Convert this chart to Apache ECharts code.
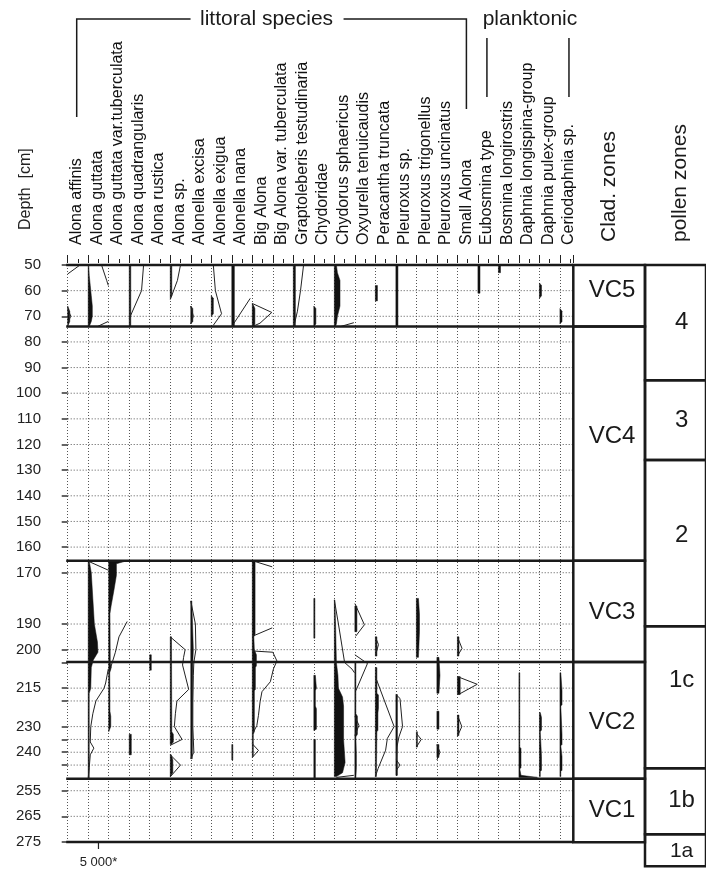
<!DOCTYPE html>
<html><head><meta charset="utf-8">
<script src="https://cdn.jsdelivr.net/npm/echarts@6/dist/echarts.min.js"></script>
<style>html,body{margin:0;padding:0;background:#fff}#c{width:706px;height:870px}</style>
</head><body><div id="c"></div>
<script>
// ---------- categories & labels ----------
const taxa = ['Alona affinis','Alona guttata','Alona guttata var.tuberculata','Alona quadrangularis','Alona rustica',
  'Alona sp.','Alonella excisa','Alonella exigua','Alonella nana','Big Alona','Big Alona var. tuberculata',
  'Graptoleberis testudinaria','Chydoridae','Chydorus sphaericus','Oxyurella tenuicaudis','Peracantha truncata',
  'Pleuroxus sp.','Pleuroxus trigonellus','Pleuroxus uncinatus','Small Alona','Eubosmina type',
  'Bosmina longirostris','Daphnia longispina-group','Daphnia pulex-group','Ceriodaphnia sp.'];
const groupNames = ['littoral species','planktonic'];
const groupFirst = [0, 20];
const groupLast = [19, 24];
const depthTicks = [50,60,70,80,90,100,110,120,130,140,150,160,170,190,200,205,215,220,230,235,240,245,255,265,275];
const depthLabels = [50,60,70,80,90,100,110,120,130,140,150,160,170,190,200,215,230,240,255,265,275];
const zoneBounds = [50,74,165.3,204.8,250.3,275];
const cladNames = ['VC5','VC4','VC3','VC2','VC1'];
const cladTop = [50,74,165.3,204.8,250.3];
const cladBottom = [74,165.3,204.8,250.3,275];
const cladLabelDepth = [59.8,117,185.3,228.2,262.6];
const pollenNames = ['4','3','2','1c','1b','1a'];
const pollenTop = [50,94.9,126,190.8,246.2,271.9];
const pollenBottom = [94.9,126,190.8,246.2,271.9,284.4];
const pollenLabelDepth = [72.2,110.5,155.3,211.9,258.7,278.4];
const scaleValue = 5000;
const colWidth = 10000;

// ---------- values: [depth cm, value]; null = break ----------
const fillAlonaAffinis = [[66,0],[68,1000],[72,1000],[74,0]];
const lineAlonaAffinis = [[50,6000],[53.5,0],null,[67,0],[70,1500],[72.5,0]];
const fillAlonaGuttata = [[50,250],[54,500],[58,1000],[62,1500],[66,2000],[70,2000],[72,1500],[74,500],null,
  [165.5,500],[170,1500],[180,2250],[190,3000],[197,4500],[201,4750],[204,2500],[207,1500],[215,1250],[217,500],[250,500]];
const lineAlonaGuttata = [[50,6500],[56,9000],[58,9800],null,[72,9800],[74,4500],null,
  [165.5,0],[169,9800],null,[207.5,9800],[213,8500],[215,7750],[220,3750],[225,2250],[230,1250],[236,1000],[238.4,2750],[241,1000],[246,500],[250,0]];
const fillGuttataTub = [[165.3,9000],[166.5,3750],[171,3750],[177,2500],[183,1150],[186,600],[205,750],[207,1250],[209,500],[224,600],[226,1000],[230,1000],[232,0]];
const lineGuttataTub = [[189,9000],[195,5000],[201,3250],[207.5,750],[209,0]];
const fillQuadrangularis = [[50,750],[74,750],null,[233,1000],[241,1000]];
const lineQuadrangularis = [[50,7000],[60,6000],[70.5,250],[71,0]];
const fillRustica = [[202,750],[208,750]];
const lineRustica = [];
const fillAlonaSp = [[50,750],[62,750],[63,0],null,[195,600],[232,750],[233,1500],[236,1500],[237,500],null,[241,500],[243,1250],[248,1250],[249.5,0]];
const lineAlonaSp = [[50,5000],[56,3500],[63.5,0],null,[195,0],[200,7250],[203,6500],[206,6000],[215.5,9000],[220,3250],[225,2500],[230,2000],[235,5750],[237.2,250],null,[241,0],[245,5000],[249.6,0]];
const fillExcisa = [[66,0],[67,1000],[72,1000],[73,0],null,[181,500],[200,1250],[205,1000],[242.5,750]];
const lineExcisa = [[66,0],[70,1250],[73,0],null,[181,0],[190,2250],[200,2500],[205,1500],[210,1250],[220,1000],[230,1000],[240,1500],[242.5,0]];
const fillExigua = [[62,0],[63,1000],[69,1000],[70,0]];
const lineExigua = [[50,1000],[60,2000],[69,5000],[73.5,1000]];
const fillNana = [[50,1250],[74,1250],null,[237,500],[243,500]];
const lineNana = [[63,9000],[74,0]];
const fillBigAlona = [[65,0],[66,750],[67,1250],[73,1250],[74,750],null,[165.3,1350],[194,1350],[195,750],[200,1000],[202,2000],[206.3,2000],[207,1500],[215.5,1500],[216,1000],[232,1000],[233,500],[241.5,500],[242,0]];
const lineBigAlona = [[65,0],[68.5,9500],[72.7,3750],[74,0],null,[165.3,0],[167.7,9700],null,[191.5,9700],[194.8,0],null,
  [200.5,0],[201,10000],[204.4,12000],[207.5,10300],[212.5,8800],[216.4,4700],[220.3,3800],[225.6,3000],[229.6,2200],[232.8,150],null,[236.7,0],[239.3,3000],[241.9,150]];
const fillBigAlonaTub = [];
const lineBigAlonaTub = [];
const fillGraptoleberis = [[50,1000],[74,1000]];
const lineGraptoleberis = [[50,5000],[60,3500],[68,2000],[74,250]];
const fillChydoridae = [[66,0],[67,1000],[73,1000],[74,0],null,[180,500],[195.5,500],null,[210,750],[215,1250],[216,750],[222,750],[223,1250],[231,1250],[231.5,0],null,[235,750],[250,750]];
const lineChydoridae = [];
const fillChydorus = [[50,1000],[53,1500],[56,2750],[66,2750],[70,1500],[73,1000],[74,500],null,
  [180.6,250],[190,600],[205,1000],[210,1750],[215,2000],[218.5,4000],[222,4500],[235,4500],[244,5250],[248,4000],[249.5,1000]];
const lineChydorus = [[72.5,9500],[74,3000],null,[180.6,0],[190,2000],[205,5000],[207.6,8650],[209,9800],null,[249,9500],[249.8,1000]];
const fillOxyurella = [[183,1000],[193,1000],null,[205,500],[225,500],[226,1250],[233,1250],[234,500],[241,750],[246,750],[250,500]];
const lineOxyurella = [[182,0],[190.3,4650],[194.8,350],null,[202,0],[205.4,6150],[216,500],null,[226,0],[229.5,2000],[233.5,0]];
const fillPeracantha = [[58,1000],[64,1000],null,[195,750],[202.5,750],null,[207,750],[217,750],[217.7,1500],[222.8,1500],[224.7,1250],[231.4,1250],[232,750],[249.5,500]];
const linePeracantha = [[195,0],[198,1500],[202.5,0],null,[210.5,0],[230,9150],[234.6,5850],[239.2,5000],[246.3,1350],[249.5,0]];
const fillPleuroxusSp = [[50,1000],[74,1000],null,[217.5,750],[249,750]];
const linePleuroxusSp = [[217.5,0],[219,2000],[230,3250],[234,1500],[238,500],[243,250],[245,2000],[247,250]];
const fillTrigonellus = [[180,1000],[186,1500],[193,1500],[203,1000],null,[232,500],[238,500]];
const lineTrigonellus = [[232.6,0],[235,2350],[238,0]];
const fillUncinatus = [[203,1000],[210,1500],[217,1000],null,[224,1000],[231,1000],null,[237,1000],[242,1000]];
const lineUncinatus = [[237,0],[240,1500],[243,0]];
const fillSmallAlona = [[195,750],[202.5,750],null,[210.5,1350],[217.5,1350],null,[225.5,750],[233.5,750]];
const lineSmallAlona = [[195,0],[199.5,2250],[202.5,0],null,[210.5,0],[213.5,9650],[217.5,500],null,[225.5,0],[230,2150],[233.8,0]];
const fillEubosmina = [[50,1000],[61,1000]];
const lineEubosmina = [];
const fillBosmina = [[50,1000],[53,1000]];
const lineBosmina = [];
const fillLongispina = [[209,400],[238,400],[238.5,1000],[246,1000],[246.5,400],[249,1000],[249.8,9000]];
const lineLongispina = [];
const fillPulex = [[57,0],[58,1000],[62,1000],[63,0],null,[224.5,400],[226.5,1000],[231.3,1000],[232,400],[241.7,1000],[247,1000],[247.5,400],[249.5,400]];
const linePulex = [];
const fillCeriodaphnia = [[67,0],[68,1000],[72,1000],[73,0],null,[209,400],[216,1000],[221.5,1000],[222,400],[233,1000],[237,1000],[237.5,400],[241.7,1000],[247,1000],[247.5,400],[249.5,400]];
const lineCeriodaphnia = [];

const fills = [fillAlonaAffinis,fillAlonaGuttata,fillGuttataTub,fillQuadrangularis,fillRustica,fillAlonaSp,fillExcisa,fillExigua,fillNana,
  fillBigAlona,fillBigAlonaTub,fillGraptoleberis,fillChydoridae,fillChydorus,fillOxyurella,fillPeracantha,fillPleuroxusSp,fillTrigonellus,
  fillUncinatus,fillSmallAlona,fillEubosmina,fillBosmina,fillLongispina,fillPulex,fillCeriodaphnia];
const lines = [lineAlonaAffinis,lineAlonaGuttata,lineGuttataTub,lineQuadrangularis,lineRustica,lineAlonaSp,lineExcisa,lineExigua,lineNana,
  lineBigAlona,lineBigAlonaTub,lineGraptoleberis,lineChydoridae,lineChydorus,lineOxyurella,linePeracantha,linePleuroxusSp,lineTrigonellus,
  lineUncinatus,lineSmallAlona,lineEubosmina,lineBosmina,lineLongispina,linePulex,lineCeriodaphnia];

// ---------- chart ----------
const FONT = '"Liberation Sans", Arial, sans-serif';
const INK = '#1a1a1a';
const XMAX = 246500;
const chart = echarts.init(document.getElementById('c'), null, {renderer:'canvas'});

function splitSegs(arr){
  const out=[]; let cur=[];
  arr.forEach(p => { if (p === null) { if (cur.length) out.push(cur); cur = []; } else cur.push(p); });
  if (cur.length) out.push(cur);
  return out;
}

function zoneRender(names, tops, bottoms, labelDepths, labelX, sizes){
  return function(params, api){
    const i = params.dataIndex;
    const a = api.coord([0, tops[i]]), b = api.coord([1, bottoms[i]]);
    const c = api.coord([labelX, labelDepths[i]]);
    return {type:'group', children:[
      {type:'rect', shape:{x:a[0], y:a[1], width:b[0]-a[0], height:b[1]-a[1]}, style:{fill:null, stroke:INK, lineWidth:2.5}},
      {type:'text', x:c[0], y:c[1], style:{text:names[i], fill:INK, font:sizes(i)+'px '+FONT, align:'center', verticalAlign:'middle'}}
    ]};
  };
}

const option = {
  backgroundColor:'#fff',
  animation:false,
  grid:[
    {left:67.7, top:265, width:505.6, height:577},
    {left:573.3, top:265, width:71.7, height:601.3},
    {left:645, top:265, width:64, height:601.3}
  ],
  xAxis:[
    {gridIndex:0, type:'value', position:'top', min:0, max:XMAX, interval:colWidth, offset:2,
      axisLine:{show:false}, axisLabel:{show:false},
      axisTick:{show:true, length:8, lineStyle:{color:'#222', width:1}},
      minorTick:{show:true, splitNumber:2, length:4, lineStyle:{color:'#222', width:1}},
      splitLine:{show:true, lineStyle:{color:'#555', width:1, type:[1,2]}}},
    {gridIndex:1, type:'value', min:0, max:1, show:false},
    {gridIndex:2, type:'value', min:0, max:1, show:false}
  ],
  yAxis:[
    {gridIndex:0, type:'value', inverse:true, min:50, max:275, position:'left', offset:9.7,
      axisLine:{show:false},
      axisTick:{show:true, length:6, customValues:depthTicks, lineStyle:{color:'#333', width:1.5}},
      axisLabel:{show:true, customValues:depthLabels, margin:17, fontSize:15, fontFamily:FONT, color:'#222'},
      splitLine:{show:false}},
    {gridIndex:1, type:'value', inverse:true, min:50, max:284.4, show:false},
    {gridIndex:2, type:'value', inverse:true, min:50, max:284.4, show:false}
  ],
  series:[
    { // dotted depth grid lines
      type:'custom', xAxisIndex:0, yAxisIndex:0, z:1, silent:true,
      data: depthTicks.map(d => [0, d]),
      renderItem(params, api){
        const d = depthTicks[params.dataIndex];
        const a = api.coord([0, d]), b = api.coord([XMAX, d]);
        return {type:'line', shape:{x1:a[0], y1:a[1], x2:b[0], y2:b[1]}, style:{stroke:'#555', lineWidth:1, lineDash:[1,2]}};
      }
    },
    { // taxa curves
      type:'custom', xAxisIndex:0, yAxisIndex:0, z:3, clip:false, silent:true,
      data: taxa.map((t, i) => [i*colWidth, 50]),
      renderItem(params, api){
        const i = params.dataIndex, base = i*colWidth;
        const children = [];
        splitSegs(fills[i]).forEach(seg => {
          const pts = [api.coord([base, seg[0][0]])];
          seg.forEach(([d, v]) => pts.push(api.coord([base + v, d])));
          pts.push(api.coord([base, seg[seg.length-1][0]]));
          children.push({type:'polygon', shape:{points:pts}, style:{fill:'#111', stroke:'#111', lineWidth:0.5}});
        });
        splitSegs(lines[i]).forEach(seg => {
          const pts = seg.map(([d, v]) => api.coord([base + v, d]));
          children.push({type:'polyline', shape:{points:pts}, style:{stroke:'#222', lineWidth:1, fill:null}});
        });
        return {type:'group', children};
      }
    },
    { // zone boundary lines
      type:'custom', xAxisIndex:0, yAxisIndex:0, z:4, clip:false, silent:true,
      data: zoneBounds.map(d => [0, d]),
      renderItem(params, api){
        const d = zoneBounds[params.dataIndex];
        const a = api.coord([0, d]), b = api.coord([XMAX, d]);
        return {type:'line', shape:{x1:a[0]-1.5, y1:a[1], x2:b[0], y2:b[1]}, style:{stroke:INK, lineWidth:2.5}};
      }
    },
    { // cladoceran zones
      type:'custom', xAxisIndex:1, yAxisIndex:1, z:4, clip:false, silent:true,
      data: cladNames.map((n, i) => [0.5, cladTop[i]]),
      renderItem: zoneRender(cladNames, cladTop, cladBottom, cladLabelDepth, 0.54, () => 24)
    },
    { // pollen zones
      type:'custom', xAxisIndex:2, yAxisIndex:2, z:4, clip:false, silent:true,
      data: pollenNames.map((n, i) => [0.5, pollenTop[i]]),
      renderItem: zoneRender(pollenNames, pollenTop, pollenBottom, pollenLabelDepth, 0.6, i => (i === 5 ? 21 : 24))
    }
  ]
};
chart.setOption(option);

// ---------- header texts placed from the axis scale ----------
const px = (x, d) => chart.convertToPixel({xAxisIndex:0, yAxisIndex:0}, [x, d]);
const gridTopY = px(0, 50)[1];
const labelX = i => px(i*colWidth, 50)[0] + 9;
const g = [];
taxa.forEach((name, i) => {
  g.push({type:'text', x:labelX(i), y:gridTopY-20, rotation:Math.PI/2,
    style:{text:name, font:'16px '+FONT, fill:'#111', align:'left', verticalAlign:'middle'}});
});
g.push({type:'text', x:26, y:gridTopY-35, rotation:Math.PI/2,
  style:{text:'Depth  [cm]', font:'16px '+FONT, fill:'#222', align:'left', verticalAlign:'middle'}});
g.push({type:'text', x:609, y:gridTopY-23, rotation:Math.PI/2,
  style:{text:'Clad. zones', font:'21px '+FONT, fill:INK, align:'left', verticalAlign:'middle'}});
g.push({type:'text', x:680, y:gridTopY-23, rotation:Math.PI/2,
  style:{text:'pollen zones', font:'21px '+FONT, fill:INK, align:'left', verticalAlign:'middle'}});
// littoral bracket
const xl = labelX(groupFirst[0]), xr = labelX(groupLast[0]);
const mid = (xl + xr)/2 - 5;
g.push({type:'polyline', shape:{points:[[xl,117],[xl,19],[mid-76,19]]}, style:{stroke:INK, lineWidth:1.5, fill:null}});
g.push({type:'polyline', shape:{points:[[mid+77,19],[xr,19],[xr,109]]}, style:{stroke:INK, lineWidth:1.5, fill:null}});
g.push({type:'text', x:mid, y:19, style:{text:groupNames[0], font:'21px '+FONT, fill:INK, align:'center', verticalAlign:'middle'}});
// planktonic
const pl = labelX(groupFirst[1]), pr = labelX(groupLast[1]);
g.push({type:'line', shape:{x1:pl, y1:38, x2:pl, y2:97}, style:{stroke:INK, lineWidth:1.5}});
g.push({type:'line', shape:{x1:pr, y1:38, x2:pr, y2:97}, style:{stroke:INK, lineWidth:1.5}});
g.push({type:'text', x:(pl+pr)/2+2, y:19, style:{text:groupNames[1], font:'21px '+FONT, fill:INK, align:'center', verticalAlign:'middle'}});
// scale bar
const sb = px(colWidth + scaleValue, 275);
g.push({type:'line', shape:{x1:sb[0], y1:sb[1], x2:sb[0], y2:sb[1]+7}, style:{stroke:'#222', lineWidth:1.2}});
g.push({type:'text', x:sb[0], y:sb[1]+20, style:{text:'5 000*', font:'13px '+FONT, fill:'#222', align:'center', verticalAlign:'middle'}});

chart.setOption({graphic:{elements:g}});
</script></body></html>
